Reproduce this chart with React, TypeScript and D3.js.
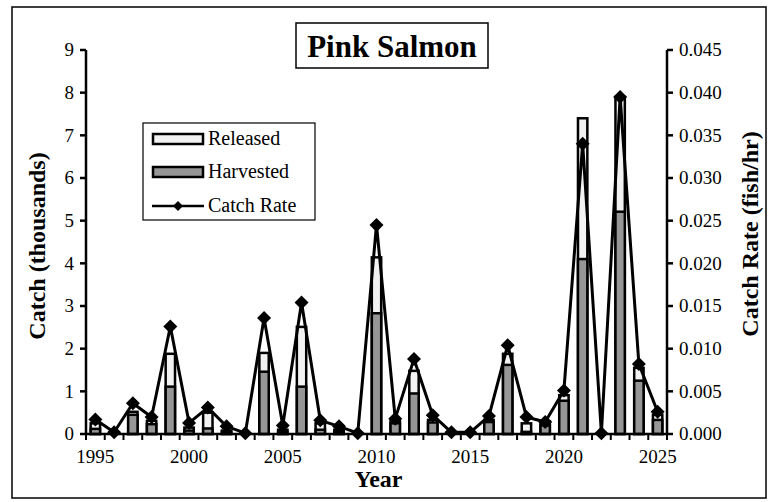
import React from "react";
import * as d3 from "d3";

const years: number[] = d3.range(1995, 2026);
const harvested: number[] = [0.12, 0, 0.45, 0.23, 1.11, 0.08, 0.13, 0.05, 0, 1.46, 0.05, 1.11, 0.1, 0.05, 0, 2.83, 0.25, 0.95, 0.27, 0, 0, 0.28, 1.62, 0.05, 0.2, 0.78, 4.1, 0, 5.21, 1.25, 0.33];
const totalCatch: number[] = [0.25, 0, 0.52, 0.31, 1.88, 0.15, 0.5, 0.08, 0, 1.9, 0.1, 2.51, 0.25, 0.1, 0, 4.14, 0.3, 1.48, 0.33, 0, 0, 0.33, 1.88, 0.25, 0.3, 0.91, 7.4, 0, 7.9, 1.55, 0.45];
const catchRate: number[] = [0.0017, 0.0002, 0.0036, 0.002, 0.0126, 0.0013, 0.0031, 0.0009, 0.0001, 0.0136, 0.001, 0.0154, 0.0016, 0.0009, 0.0001, 0.0245, 0.0018, 0.0088, 0.0022, 0.0002, 0.0002, 0.0021, 0.0104, 0.002, 0.0014, 0.0051, 0.034, 0.0001, 0.0395, 0.0082, 0.0026];
const leftTicks: number[] = [0, 1, 2, 3, 4, 5, 6, 7, 8, 9];
const rightTicks: number[] = [0, 0.005, 0.01, 0.015, 0.02, 0.025, 0.03, 0.035, 0.04, 0.045];
const labelYears: number[] = [1995, 2000, 2005, 2010, 2015, 2020, 2025];

function T(props: { x?: number; y?: number; dy?: string; anchor?: string; size: number; bold?: boolean; transform?: string; children: React.ReactNode }) {
  return (
    <text
      x={props.x}
      y={props.y}
      dy={props.dy}
      transform={props.transform}
      textAnchor={props.anchor || "start"}
      fontFamily="Liberation Serif"
      fontSize={props.size}
      fontWeight={props.bold ? 700 : 400}
      style={{ fontFamily: "Liberation Serif" }}
    >
      {props.children}
    </text>
  );
}

function diamondPath(r: number): string {
  return `M0,${-r}L${r},0L0,${r}L${-r},0Z`;
}

export default function App() {
  const L = 86, R = 667, TOP = 50, B = 434;
  const band = d3.scaleBand<number>().domain(years).range([L, R]);
  const yL = d3.scaleLinear().domain([0, 9]).range([B, TOP]);
  const yR = d3.scaleLinear().domain([0, 0.045]).range([B, TOP]);
  const cx = (yr: number) => (band(yr) as number) + band.bandwidth() / 2;
  const line = d3.line<number>().x((_, i) => cx(years[i])).y((d) => yR(d));
  const bw = band.bandwidth() * 0.5;

  return (
    <svg width={770} height={502} style={{ position: "absolute", left: 0, top: 0, background: "#fff" }}>
      <rect x={12} y={7} width={754} height={491} fill="#fff" stroke="#000" strokeWidth={1.5} />
      {years.map((yr, i) => (
        <g key={yr}>
          {totalCatch[i] > 0 && (
            <rect x={cx(yr) - bw / 2} y={yL(totalCatch[i])} width={bw} height={yL(0) - yL(totalCatch[i])} fill="#f2f2f2" stroke="#000" strokeWidth={2.5} />
          )}
          {harvested[i] > 0 && (
            <rect x={cx(yr) - bw / 2} y={yL(harvested[i])} width={bw} height={yL(0) - yL(harvested[i])} fill="#969696" stroke="#000" strokeWidth={2.5} />
          )}
        </g>
      ))}
      <line x1={L} x2={L} y1={TOP} y2={B} stroke="#000" strokeWidth={2.5} />
      <line x1={R} x2={R} y1={TOP} y2={B} stroke="#000" strokeWidth={2.5} />
      <line x1={L} x2={R} y1={B} y2={B} stroke="#000" strokeWidth={2.5} />
      {leftTicks.map((t) => (
        <g key={"l" + t}>
          <line x1={L - 6} x2={L} y1={yL(t)} y2={yL(t)} stroke="#000" strokeWidth={2.5} />
          <T x={L - 12} y={yL(t)} dy="0.34em" anchor="end" size={19}>{t}</T>
        </g>
      ))}
      {rightTicks.map((t) => (
        <g key={"r" + t}>
          <line x1={R} x2={R + 6} y1={yR(t)} y2={yR(t)} stroke="#000" strokeWidth={2.5} />
          <T x={R + 12} y={yR(t)} dy="0.34em" size={19}>{t.toFixed(3)}</T>
        </g>
      ))}
      {years.map((yr) => (
        <line key={"bt" + yr} x1={band(yr) as number} x2={band(yr) as number} y1={B} y2={B + 6} stroke="#000" strokeWidth={2} />
      ))}
      <line x1={R} x2={R} y1={B} y2={B + 6} stroke="#000" strokeWidth={2} />
      {labelYears.map((yr) => (
        <T key={"bl" + yr} x={cx(yr)} y={B + 29} anchor="middle" size={19}>{yr}</T>
      ))}
      <path d={line(catchRate) as string} fill="none" stroke="#000" strokeWidth={3} strokeLinejoin="round" />
      {catchRate.map((r, i) => (
        <path key={"d" + i} d={diamondPath(7)} transform={`translate(${cx(years[i])},${yR(r)})`} fill="#000" />
      ))}
      <T transform={`translate(45,${(TOP + B) / 2 + 4}) rotate(-90)`} anchor="middle" size={24} bold>Catch (thousands)</T>
      <T transform={`translate(758,${(TOP + B) / 2 - 8}) rotate(-90)`} anchor="middle" size={24} bold>Catch Rate (fish/hr)</T>
      <T x={(L + R) / 2 + 2} y={487} anchor="middle" size={24} bold>Year</T>
      <rect x={296} y={23} width={192} height={45} fill="#fff" stroke="#000" strokeWidth={1.5} />
      <T x={392} y={57} anchor="middle" size={31} bold>Pink Salmon</T>
      <rect x={143} y={123} width={172} height={97} fill="#fff" stroke="#000" strokeWidth={1.2} />
      <rect x={153} y={134} width={50} height={10} fill="#f2f2f2" stroke="#000" strokeWidth={2.5} />
      <T x={208} y={145} size={20}>Released</T>
      <rect x={153} y={167} width={50} height={10} fill="#969696" stroke="#000" strokeWidth={2.5} />
      <T x={208} y={178} size={20}>Harvested</T>
      <line x1={152} x2={204} y1={206} y2={206} stroke="#000" strokeWidth={2.5} />
      <path d={diamondPath(5)} transform="translate(178,206)" fill="#000" />
      <T x={208} y={212} size={20}>Catch Rate</T>
    </svg>
  );
}
